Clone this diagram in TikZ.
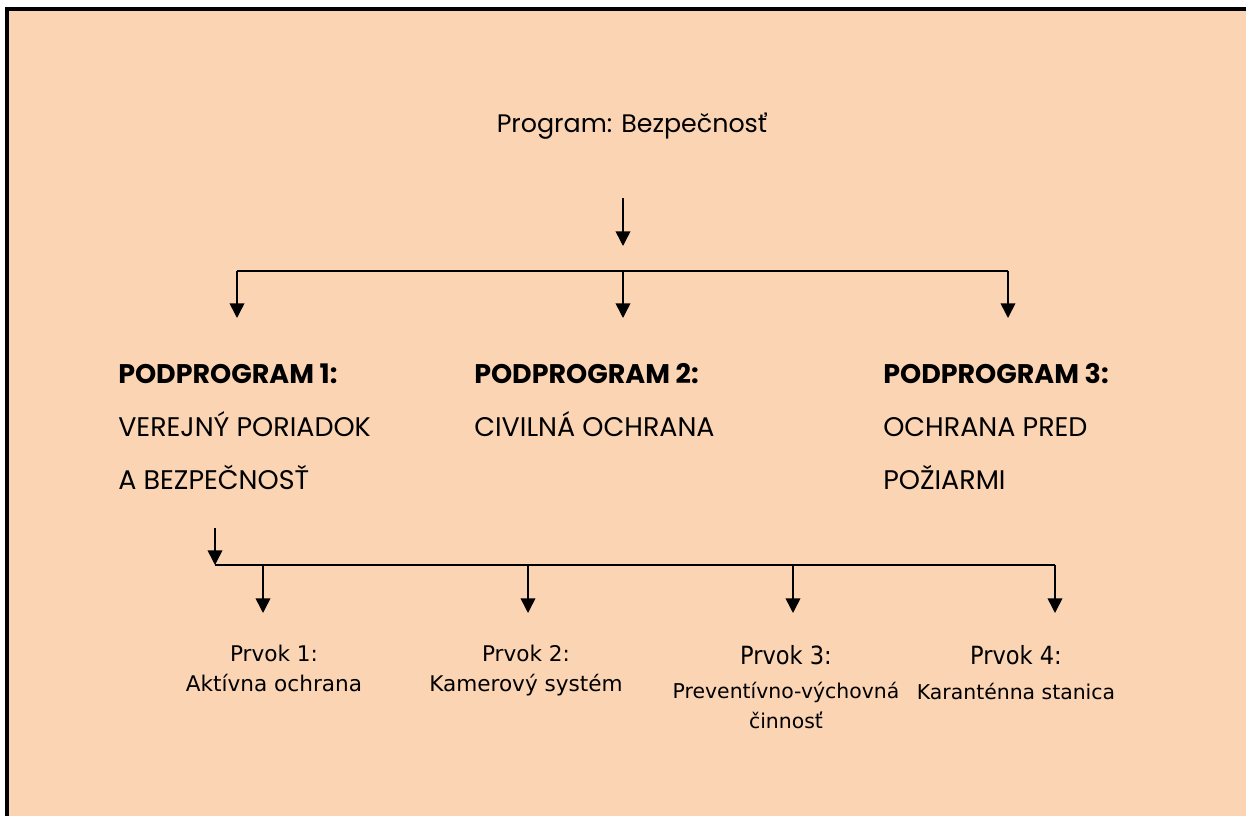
\documentclass[tikz,border=0pt]{standalone}
\usepackage{fontspec}
\setmainfont{Poppins}
\newfontfamily\verdanaish{DejaVu Sans}
\newfontfamily\tahomaish{DejaVu Sans Condensed}
\usetikzlibrary{arrows.meta}
\definecolor{peach}{HTML}{FBD4B4}

\begin{document}
\begin{tikzpicture}[x=0.75pt,y=-0.75pt,
    conn/.style={line width=1.2pt,-{Triangle[width=11pt,length=11pt]}},
    bar/.style={line width=1.2pt},
    head/.style={anchor=base west,align=left,inner sep=0pt,
      font=\fontsize{20.2}{39.75}\selectfont},
    prvok/.style={anchor=base,align=center,inner sep=0pt,
      font=\verdanaish\fontsize{16.2}{22.5}\selectfont},
    prvokwide/.style={prvok,font=\verdanaish\fontsize{15.3}{21.8}\selectfont}]
  \useasboundingbox (0,0) rectangle (1246,816);
  \fill[peach] (7,9) rectangle (1246,816);
  \draw[line width=3pt] (7,816) -- (7,9) -- (1246,9);

  % program
  \node[anchor=base,inner sep=0pt,font=\fontsize{19}{25}\selectfont] (prog) at (632,133) {Program: Bezpečnosť};
  \coordinate (a0) at (623,198);
  \coordinate (a1) at (623,246);
  \draw[conn] (a0) -- (a1);

  % podprogramy (base = last line)
  \coordinate (b1) at (237,271);
  \coordinate (b2) at (623,271);
  \coordinate (b3) at (1008,271);
  \draw[bar] (b1) -- (b3);
  \foreach \b in {1,2,3}
    \draw[conn] (b\b) -- ++(0,47) coordinate (t\b);

  \node[head] (pp1) at (118,489) {\textbf{PODPROGRAM 1:}\\VEREJNÝ PORIADOK\\A BEZPEČNOSŤ};
  \node[head] (pp2) at (474,436) {\textbf{PODPROGRAM 2:}\\CIVILNÁ OCHRANA};
  \node[head] (pp3) at (883,489) {\textbf{PODPROGRAM 3:}\\OCHRANA PRED\\POŽIARMI};

  % prvky
  \coordinate (c0) at (215,528);
  \coordinate (c1) at (215,565);
  \coordinate (c4) at (1055,565);
  \draw[conn] (c0) -- (c1);
  \draw[bar] (c1) -- (c4);
  \foreach \x [count=\i] in {263,528,793,1055}
    \draw[conn] (\x,565) -- (\x,613) coordinate (d\i);

  \node[prvok] (pr1) at (274,691) {Prvok 1:\\Aktívna ochrana};
  \node[prvok] (pr2) at (526,691) {Prvok 2:\\Kamerový systém};
  \node[prvokwide] (pr3) at (786,728) {{\tahomaish\fontsize{18.8}{22}\selectfont Prvok 3:}\\[4pt]Preventívno-výchovná\\činnosť};
  \node[prvokwide] (pr4) at (1016,699) {{\tahomaish\fontsize{18.8}{22}\selectfont Prvok 4:}\\[4pt]Karanténna stanica};
\end{tikzpicture}
\end{document}
